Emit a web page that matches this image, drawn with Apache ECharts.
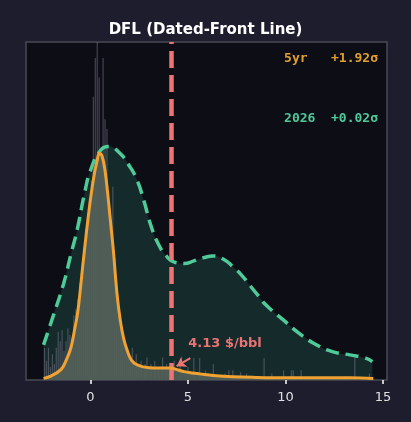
<!DOCTYPE html>
<html>
<head>
<meta charset="utf-8">
<script src="https://cdn.jsdelivr.net/npm/echarts@6/dist/echarts.min.js"></script>
<style>
  html, body { margin: 0; padding: 0; background: #1d1d2e; }
  #graph { width: 411px; height: 422px; }
</style>
</head>
<body>
<div id="graph"></div>
<script>
// chart texts
var titleText = 'DFL (Dated-Front Line)';
var legendLines = ['5yr   +1.92\u03c3', '2026  +0.02\u03c3'];
var spotValue = 4.13;
var spotLabel = '4.13 $/bbl';
var xTicks = [0, 5, 10, 15];

// 2026 density curve (dashed green)
var greenX = [-2.4, -1.9, -1.37, -1.0, -0.68, -0.3, 0, 0.5, 0.94, 1.5, 2.0, 2.4, 2.75, 3.1, 3.5, 3.9, 4.3, 4.8, 5.3, 5.8, 6.3, 6.8, 7.3, 7.8, 8.2, 8.6, 9.0, 9.9, 10.7, 11.6, 12.4, 13.3, 14.1, 14.45];
var greenY = [0.109, 0.2, 0.3, 0.39, 0.466, 0.58, 0.65, 0.712, 0.725, 0.705, 0.665, 0.62, 0.555, 0.48, 0.42, 0.385, 0.366, 0.362, 0.37, 0.38, 0.385, 0.376, 0.352, 0.322, 0.292, 0.262, 0.233, 0.186, 0.145, 0.109, 0.088, 0.078, 0.068, 0.057];

// 5yr density curve (solid orange)
var orangeX = [-2.4, -2.0, -1.5, -1.25, -1.0, -0.8, -0.65, -0.5, -0.4, -0.2, 0, 0.2, 0.34, 0.46, 0.6, 0.75, 0.92, 1.05, 1.18, 1.36, 1.53, 1.7, 1.88, 2.1, 2.4, 3.0, 3.6, 4.1, 4.5, 4.8, 5.2, 5.6, 6.3, 7.3, 8.5, 9.9, 11.5, 13.3, 14.5];
var orangeY = [0.005, 0.013, 0.033, 0.06, 0.10, 0.16, 0.21, 0.29, 0.35, 0.46, 0.56, 0.64, 0.68, 0.705, 0.695, 0.65, 0.56, 0.48, 0.40, 0.27, 0.186, 0.13, 0.093, 0.062, 0.047, 0.038, 0.037, 0.037, 0.031, 0.026, 0.022, 0.019, 0.014, 0.010, 0.008, 0.007, 0.007, 0.007, 0.005];

// histogram of daily values (bin centres and heights)
var histX = [-2.35, -2.25, -2.15, -2.05, -1.95, -1.85, -1.75, -1.65, -1.55,
  -1.45, -1.35, -1.25, -1.15, -1.05, -0.95, -0.85, -0.75, -0.65, -0.55, -0.45, -0.35, -0.25, -0.15, -0.05,
  0.05, 0.15, 0.25, 0.35, 0.45, 0.55, 0.65, 0.75, 0.85, 0.95, 1.05, 1.15, 1.25, 1.35, 1.45, 1.55, 1.65, 1.75, 1.85, 1.95, 2.05, 2.15, 2.25, 2.35, 2.45,
  2.6, 2.8, 2.9, 3.1, 3.3, 3.5, 3.7, 3.9, 4.3, 4.6, 5.0, 5.3, 5.6, 5.9, 6.3, 6.9, 7.1, 7.3, 7.7, 8.0, 8.9, 9.3, 9.9, 10.3, 10.4, 10.8, 12.0, 13.55, 14.3];
var histY = [0.1, 0.06, 0.1, 0.04, 0.08, 0.05, 0.1, 0.15, 0.12,
  0.155, 0.09, 0.12, 0.16, 0.14, 0.13, 0.2, 0.22, 0.25, 0.3, 0.34, 0.4, 0.47, 0.5, 0.55,
  0.62, 0.88, 1.0, 1.3, 0.94, 0.72, 1.0, 0.81, 0.78, 0.55, 0.5, 0.6, 0.38, 0.3, 0.2, 0.17, 0.13, 0.11, 0.1, 0.09, 0.07, 0.1, 0.06, 0.08, 0.05,
  0.06, 0.05, 0.07, 0.05, 0.06, 0.04, 0.07, 0.05, 0.06, 0.05, 0.04, 0.068, 0.068, 0.03, 0.05, 0.02, 0.03, 0.03, 0.025, 0.02, 0.068, 0.02, 0.03, 0.03, 0.03, 0.03, 0.01, 0.068, 0.02];

// pair up x and y arrays for the value axis
function pairs(xs, ys) {
  var out = [];
  for (var i = 0; i < xs.length; i++) out.push([xs[i], ys[i]]);
  return out;
}

var chart = echarts.init(document.getElementById('graph'), null, { renderer: 'canvas' });

var option = {
  backgroundColor: '#1d1d2e',
  animation: false,
  title: {
    text: titleText,
    left: 'center',
    top: 18,
    textStyle: { color: '#ffffff', fontSize: 15, fontWeight: 'bold', fontFamily: 'DejaVu Sans' }
  },
  grid: {
    left: 26, right: 24, top: 42, bottom: 42,
    show: true,
    backgroundColor: '#0d0d16',
    borderColor: '#4a4a56',
    borderWidth: 1.5
  },
  xAxis: {
    type: 'value',
    min: -3.3,
    max: 15.2,
    splitLine: { show: false },
    axisLine: { show: false },
    axisTick: { show: true, length: 4, customValues: xTicks, lineStyle: { color: '#ffffff', width: 1.5 } },
    axisLabel: { customValues: xTicks, color: '#e0e0e0', fontSize: 13, fontFamily: 'DejaVu Sans', margin: 11 }
  },
  yAxis: {
    type: 'value',
    min: 0,
    max: 1.05,
    show: false
  },
  graphic: [
    { type: 'text', right: 33, top: 52, z: 100,
      style: { text: legendLines[0], fill: '#e0a030', font: 'bold 13px "DejaVu Sans Mono"' } },
    { type: 'text', right: 33, top: 112, z: 100,
      style: { text: legendLines[1], fill: '#4fc99a', font: 'bold 13px "DejaVu Sans Mono"' } }
  ],
  series: [
    // 2026 fill
    {
      type: 'line', z: 1, silent: true,
      data: pairs(greenX, greenY),
      smooth: 0.5, showSymbol: false,
      lineStyle: { width: 0 },
      areaStyle: { color: '#152a2b', opacity: 1 }
    },
    // histogram
    {
      type: 'bar', z: 2, silent: true,
      data: pairs(histX, histY),
      barWidth: 1.2,
      itemStyle: { color: 'rgba(125,122,140,0.5)' }
    },
    // 5yr fill
    {
      type: 'line', z: 3, silent: true,
      data: pairs(orangeX, orangeY),
      smooth: 0.4, showSymbol: false,
      lineStyle: { width: 0 },
      areaStyle: { color: '#526058', opacity: 0.92 }
    },
    // 2026 line
    {
      type: 'line', z: 4, silent: true,
      data: pairs(greenX, greenY),
      smooth: 0.5, showSymbol: false,
      lineStyle: { color: '#4ecb98', width: 3.5, type: [13, 7] }
    },
    // 5yr line, with the spot marker and its label
    {
      type: 'line', z: 5, silent: true,
      data: pairs(orangeX, orangeY),
      smooth: 0.4, showSymbol: false,
      lineStyle: { color: '#f0a232', width: 3 },
      markLine: {
        silent: true,
        symbol: 'none',
        label: { show: false },
        data: [
          { xAxis: spotValue, lineStyle: { color: '#ee7474', width: 4.5, type: [17, 7] } },
          [
            { coord: [5.12, 0.068], symbol: 'none' },
            { coord: [4.42, 0.043], symbol: 'arrow', symbolSize: 9 }
          ]
        ],
        lineStyle: { color: '#ee7474', width: 2, type: 'solid' }
      },
      markPoint: {
        silent: true,
        symbol: 'circle',
        symbolSize: 0,
        data: [{ coord: [6.9, 0.112] }],
        label: {
          show: true,
          formatter: spotLabel,
          color: '#ea7474',
          fontSize: 13,
          fontWeight: 'bold',
          fontFamily: 'DejaVu Sans'
        }
      }
    }
  ]
};

chart.setOption(option);
</script>
</body>
</html>
